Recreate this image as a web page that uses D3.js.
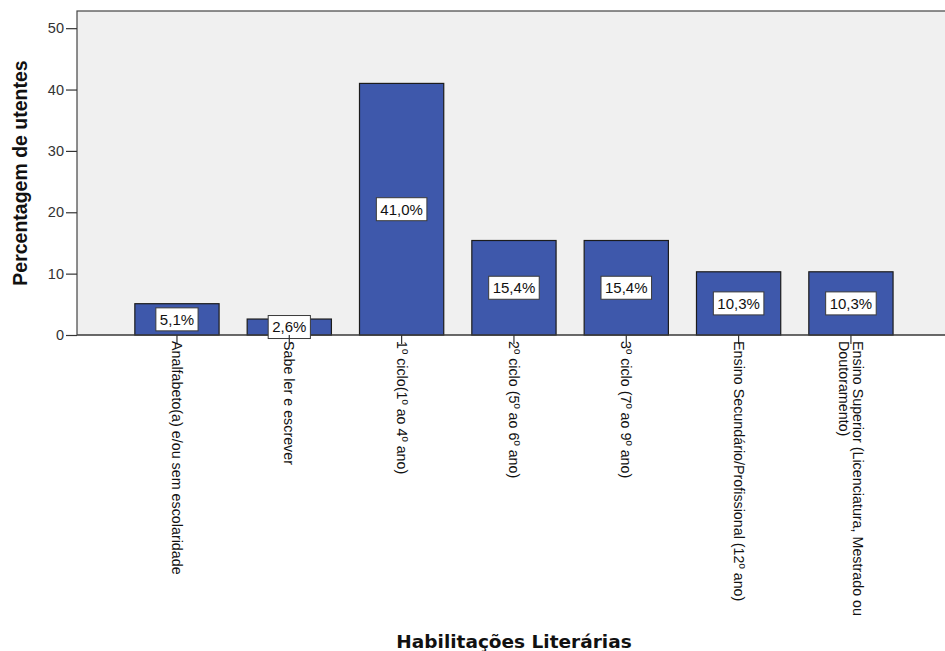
<!DOCTYPE html>
<html>
<head>
<meta charset="utf-8">
<script src="https://cdn.jsdelivr.net/npm/d3@7"></script>
<style>
  body { margin: 0; background: #fff; }
  svg { display: block; font-family: "Liberation Sans", Arial, sans-serif; }
</style>
</head>
<body>
<div id="chart"></div>
<script>
// categories (multi-line labels split into lines)
var categories = [
  ["Analfabeto(a) e/ou sem escolaridade"],
  ["Sabe ler e escrever"],
  ["1º ciclo(1º ao 4º ano)"],
  ["2º ciclo (5º ao 6º ano)"],
  ["3º ciclo (7º ao 9º ano)"],
  ["Ensino Secundário/Profissional (12º ano)"],
  ["Ensino Superior (Licenciatura, Mestrado ou", "Doutoramento)"]
];
var values = [5.1, 2.6, 41.0, 15.4, 15.4, 10.3, 10.3];
var yTicks = [0, 10, 20, 30, 40, 50];

var width = 945, height = 651;
var plotLeft = 77, plotTop = 11, plotBottom = 335;

var svg = d3.select("#chart").append("svg")
  .attr("width", width)
  .attr("height", height);

var x = d3.scaleBand()
  .domain(d3.range(categories.length))
  .range([120.8, 907.1])
  .paddingInner(0.25)
  .paddingOuter(0.125);

var y = d3.scaleLinear()
  .domain([0, 52.8])
  .range([plotBottom, plotTop]);

// plot background
svg.append("rect")
  .attr("x", plotLeft)
  .attr("y", plotTop)
  .attr("width", width - plotLeft + 10)
  .attr("height", plotBottom - plotTop)
  .style("fill", "#f0f0f0")
  .style("stroke", "#444")
  .style("stroke-width", 1.2);

// bars
svg.selectAll("rect.bar")
  .data(values)
  .enter().append("rect")
  .attr("class", "bar")
  .attr("x", function(d, i) { return x(i); })
  .attr("y", function(d) { return y(d); })
  .attr("width", x.bandwidth())
  .attr("height", function(d) { return y(0) - y(d); })
  .style("fill", "#3e58ab")
  .style("stroke", "#1c1c1c")
  .style("stroke-width", 1.2);

// baseline
svg.append("line")
  .attr("x1", plotLeft).attr("x2", width)
  .attr("y1", y(0)).attr("y2", y(0))
  .style("stroke", "#444")
  .style("stroke-width", 1.2);

// value labels
var lab = svg.selectAll("g.vlabel")
  .data(values)
  .enter().append("g")
  .attr("class", "vlabel")
  .attr("transform", function(d, i) {
    return "translate(" + (x(i) + x.bandwidth() / 2) + "," + ((y(d) + y(0)) / 2) + ")";
  });
var labBox = lab.append("rect")
  .style("fill", "#fff")
  .style("stroke", "#3a3a3a");
lab.append("text")
  .attr("text-anchor", "middle")
  .attr("dy", "0.36em")
  .style("font-size", "15px")
  .style("fill", "#111")
  .text(function(d) { return d3.format(".1f")(d).replace(".", ",") + "%"; })
  .each(function() {
    var w = this.getComputedTextLength() + 8;
    d3.select(this.parentNode).select("rect")
      .attr("x", -w / 2).attr("y", -11.5)
      .attr("width", w).attr("height", 23);
  });

// y axis
var yAxis = svg.append("g")
  .attr("transform", "translate(" + plotLeft + ",0)")
  .call(d3.axisLeft(y).tickValues(yTicks).tickSize(11).tickPadding(2).tickFormat(d3.format("d")));
yAxis.select(".domain").remove();
yAxis.selectAll("line").style("stroke", "#333").style("stroke-width", 1.2);
yAxis.selectAll("text")
  .style("font-size", "14.5px")
  .style("font-family", "Liberation Sans, Arial, sans-serif")
  .style("fill", "#333");

// x ticks and rotated labels
var xt = svg.selectAll("g.xt")
  .data(categories)
  .enter().append("g")
  .attr("class", "xt")
  .attr("transform", function(d, i) {
    return "translate(" + (x(i) + x.bandwidth() / 2) + "," + y(0) + ")";
  });
xt.append("line")
  .attr("y1", 0).attr("y2", 9)
  .style("stroke", "#333")
  .style("stroke-width", 1.2);
xt.append("text")
  .attr("transform", "translate(0,6) rotate(90)")
  .style("font-size", "14.3px")
  .style("fill", "#111")
  .each(function(d) {
    var t = d3.select(this);
    var n = d.length;
    d.forEach(function(line, k) {
      t.append("tspan")
        .attr("x", 0)
        .attr("y", (k - (n - 1) / 2) * 14)
        .attr("dy", "0.35em")
        .text(line);
    });
  });

// axis titles
svg.append("text")
  .attr("transform", "translate(27,173) rotate(-90)")
  .attr("text-anchor", "middle")
  .style("font-size", "19.5px")
  .style("font-weight", "bold")
  .style("fill", "#111")
  .text("Percentagem de utentes");

svg.append("text")
  .attr("x", 514)
  .attr("y", 648)
  .attr("text-anchor", "middle")
  .style("font-family", "DejaVu Sans, sans-serif")
  .style("font-size", "18.5px")
  .style("font-weight", "bold")
  .style("fill", "#111")
  .text("Habilitações Literárias");
</script>
</body>
</html>
